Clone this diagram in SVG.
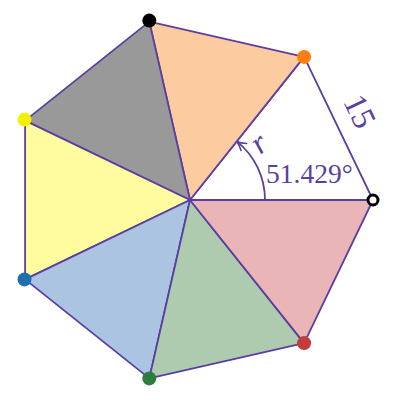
<svg xmlns="http://www.w3.org/2000/svg" width="400" height="400" viewBox="0 0 400 400">
<style>
.sec{stroke:#5b3fa0;stroke-width:1.8;stroke-linejoin:round}
.lbl{font-family:"Liberation Serif","DejaVu Serif",serif;fill:#5b3fa0}
.dot{stroke:none}
</style>
<defs>
<marker id="ar" markerWidth="12" markerHeight="12" refX="10" refY="6" orient="auto" markerUnits="userSpaceOnUse">
<path d="M1,1.5 Q6,5 10,6 Q6,7 1,10.5" fill="none" stroke="#5b3fa0" stroke-width="1.6" stroke-linecap="round"/>
</marker>
</defs>
<rect width="400" height="400" fill="#fff"/>
<g id="sectors">
<polygon id="s0" class="sec" points="190,200 373,200 304.1,56.9" fill="#ffffff"/>
<polygon id="s1" class="sec" points="190,200 304.1,56.9 149.3,21.6" fill="#fdcba0"/>
<polygon id="s2" class="sec" points="190,200 149.3,21.6 25.1,120.6" fill="#999999"/>
<polygon id="s3" class="sec" points="190,200 25.1,120.6 25.1,279.4" fill="#fffca0"/>
<polygon id="s4" class="sec" points="190,200 25.1,279.4 149.3,378.4" fill="#aac4e2"/>
<polygon id="s5" class="sec" points="190,200 149.3,378.4 304.1,343.1" fill="#aecbb0"/>
<polygon id="s6" class="sec" points="190,200 304.1,343.1 373,200" fill="#e9b5b6"/>
</g>
<g id="connectors">
<path d="M265,200 A75,75 0 0 0 236.8,141.4" fill="none" stroke="#5b3fa0" stroke-width="1.8" marker-end="url(#ar)"/>
</g>
<g id="labels">
<text class="lbl" x="266" y="183" font-size="27.5">51.429°</text>
<text class="lbl" x="0" y="0" font-size="32" font-style="italic" text-anchor="middle" transform="translate(265,151) rotate(-38.6)">r</text>
<text class="lbl" x="0" y="0" font-size="33" text-anchor="middle" transform="translate(350,116) rotate(64.3)">15</text>
</g>
<g id="vertices">
<circle id="v0" cx="373" cy="200" r="5" fill="#fff" stroke="#000" stroke-width="3"/>
<circle id="v1" class="dot" cx="304.1" cy="56.9" r="7" fill="#ff7f0e"/>
<circle id="v2" class="dot" cx="149.3" cy="20.6" r="7" fill="#000"/>
<circle id="v3" class="dot" cx="24.5" cy="119.6" r="7" fill="#f5f000"/>
<circle id="v4" class="dot" cx="24.5" cy="279.4" r="7" fill="#1f6fb0"/>
<circle id="v5" class="dot" cx="149.3" cy="378.4" r="7" fill="#2e7d3e"/>
<circle id="v6" class="dot" cx="304.1" cy="343.1" r="7" fill="#c43c3c"/>
</g>
</svg>
